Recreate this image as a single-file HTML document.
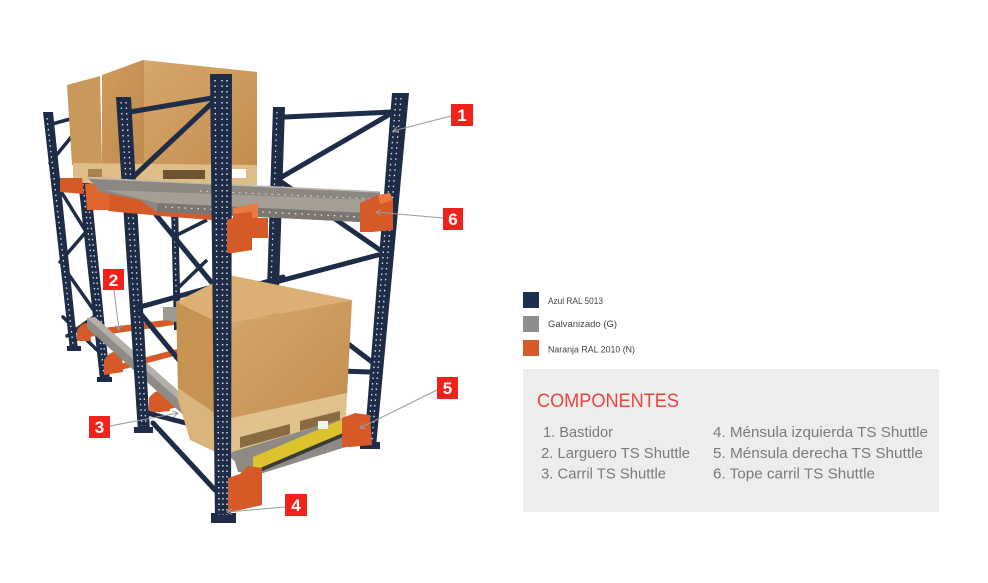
<!DOCTYPE html>
<html><head><meta charset="utf-8">
<style>
html,body{margin:0;padding:0;background:#fff;}
svg{display:block;}
</style></head><body>
<svg width="988" height="583" viewBox="0 0 988 583" xmlns="http://www.w3.org/2000/svg">
<defs>
<marker id="ar" markerWidth="8" markerHeight="8" refX="6" refY="4" orient="auto" markerUnits="userSpaceOnUse">
<path d="M1,1 L6,4 L1,7" fill="none" stroke="#9a9a9a" stroke-width="1"/>
</marker>
<linearGradient id="boxF" x1="0" y1="0" x2="1" y2="1">
<stop offset="0" stop-color="#d6a86c"/><stop offset="1" stop-color="#c38d4f"/>
</linearGradient>
<linearGradient id="boxT" x1="0" y1="0" x2="1" y2="1">
<stop offset="0" stop-color="#cf9c5e"/><stop offset="1" stop-color="#c08a4d"/>
</linearGradient>
</defs>

<!-- far-left frame -->
<g stroke="#1e2c47" stroke-width="3.5" stroke-linecap="round">
<line x1="52" y1="124" x2="74" y2="118"/>
<line x1="50" y1="163" x2="77" y2="130"/>
<line x1="52" y1="177" x2="85" y2="230"/>
<line x1="85" y1="233" x2="60" y2="262"/>
<line x1="62" y1="265" x2="95" y2="312"/>
<line x1="95" y1="316" x2="67" y2="336"/>
<line x1="63" y1="317" x2="97" y2="350"/>
</g>
<g fill="#1e2c47">
<polygon points="43,112 53,112 78,350 70,350"/>
<polygon points="70,107 83,107 110,380 100,380"/>
<rect x="67" y="346" width="14" height="5"/>
<rect x="97" y="377" width="15" height="5"/>
</g>
<g stroke="#dfe6ee" stroke-width="1.3" stroke-dasharray="1.5 4" fill="none">
<line x1="47" y1="118" x2="73" y2="345"/>
<line x1="75" y1="113" x2="104" y2="375"/>
<line x1="79" y1="113" x2="107" y2="375"/>
</g>

<!-- top boxes -->
<polygon points="67,85 100,76 102,165 72,165" fill="#c9995c"/>
<polygon points="102,75 143,60 143,166 102,166" fill="url(#boxT)"/>
<polygon points="143,60 257,72 257,166 143,166" fill="url(#boxF)"/>
<line x1="143" y1="60" x2="143" y2="166" stroke="#b5824a" stroke-width="1"/>
<!-- top pallet -->
<polygon points="73,163 257,165 257,185 73,183" fill="#dfbd86"/>
<rect x="163" y="170" width="42" height="9" fill="#6e5332"/>
<rect x="232" y="169" width="14" height="9" fill="#ffffff"/>
<rect x="88" y="169" width="14" height="8" fill="#a7834f"/>

<!-- right back upright & middle back -->
<g fill="#1e2c47">
<polygon points="273,107 285,107 274,440 262,440"/>
<polygon points="171,205 178,205 181,330 174,330"/>
</g>
<g stroke="#dfe6ee" stroke-width="1.2" stroke-dasharray="1.5 4">
<line x1="277" y1="112" x2="266" y2="430"/>
<line x1="174" y1="208" x2="177" y2="325"/>
</g>
<line x1="173" y1="237" x2="207" y2="220" stroke="#1e2c47" stroke-width="3.5"/>
<line x1="176" y1="290" x2="207" y2="260" stroke="#1e2c47" stroke-width="3.5"/>

<!-- right frame braces -->
<g stroke="#1e2c47" stroke-width="5" stroke-linecap="round">
<line x1="285" y1="117" x2="392" y2="112"/>
<line x1="280" y1="178" x2="392" y2="113"/>
<line x1="280" y1="181" x2="380" y2="250"/>
<line x1="272" y1="283" x2="378" y2="255"/>
<line x1="232" y1="292" x2="283" y2="277"/>
<line x1="330" y1="330" x2="372" y2="362"/>
<line x1="340" y1="371" x2="370" y2="372"/>
</g>

<!-- lower orange beams & rails (back) -->
<g fill="#d65a28">
<polygon points="88,330 173,319 174,325 89,337"/>
<polygon points="120,364 177,349 178,355 121,370"/>
<polygon points="160,404 178,400 178,407 161,411"/>
<path d="M77,341 L77,330 Q82,321 90,324 L91,341 Z"/>
<path d="M104,375 L104,360 Q111,349 122,352 L123,372 Z"/>
<path d="M149,413 L149,398 Q156,388 168,391 L170,411 Z"/>
</g>
<polygon points="87,318 95,317 247,452 245,464 240,466 87,328" fill="#8f8c88"/>
<polygon points="87,318 95,317 247,452 242,456" fill="#b3afa9"/>
<polygon points="163,307 177,307 177,322 163,320" fill="#9d9993"/>

<!-- left frame back upright U_C -->
<polygon points="116,97 131,97 150,432 138,432" fill="#1e2c47"/>
<rect x="134" y="427" width="19" height="6" fill="#1e2c47"/>
<g stroke="#dfe6ee" stroke-width="1.3" stroke-dasharray="1.5 4">
<line x1="121" y1="102" x2="142" y2="426"/>
<line x1="126" y1="102" x2="146" y2="426"/>
</g>

<!-- left frame braces -->
<g stroke="#1e2c47" stroke-width="5" stroke-linecap="round">
<line x1="130" y1="112" x2="212" y2="98"/>
<line x1="130" y1="180" x2="212" y2="103"/>
<line x1="130" y1="183" x2="212" y2="283"/>
<line x1="140" y1="307" x2="212" y2="287"/>
<line x1="140" y1="313" x2="212" y2="400"/>
<line x1="147" y1="413" x2="213" y2="430"/>
<line x1="153" y1="423" x2="215" y2="490"/>
</g>

<!-- top rail + orange -->
<g fill="#d65a28">
<polygon points="60,178 82,178 84,194 60,192"/>
<polygon points="108,190 160,195 162,216 108,211"/>
<polygon points="160,205 212,210 212,220 160,216"/>
<polygon points="85,184 108,182 110,210 87,210" fill="#e0662f"/>
</g>
<polygon points="88,178 380,192 380,205 367,213 360,222 157,212 140,200 100,192" fill="#8c8780"/>
<polygon points="105,190 378,200 367,213 157,203" fill="#a49e95"/>
<polygon points="157,203 367,213 360,222 157,212" fill="#7b7670"/>
<line x1="88" y1="178" x2="380" y2="192" stroke="#bdb8b0" stroke-width="1.5"/>
<line x1="165" y1="207" x2="360" y2="217" stroke="#eeeeee" stroke-width="1.2" stroke-dasharray="1.5 5"/>
<line x1="200" y1="191" x2="375" y2="199" stroke="#e6e6e6" stroke-width="1" stroke-dasharray="1.5 5"/>

<!-- right front upright U_G -->
<polygon points="392,93 409,93 376,447 364,447" fill="#1e2c47"/>
<rect x="360" y="442" width="20" height="7" fill="#1e2c47"/>
<g stroke="#dfe6ee" stroke-width="1.3" stroke-dasharray="1.5 4">
<line x1="396" y1="98" x2="368" y2="440"/>
<line x1="401" y1="98" x2="372" y2="440"/>
</g>

<!-- right top bracket -->
<polygon points="360,203 378,195 390,193 393,200 393,230 372,232 360,232" fill="#d65a28"/>
<polygon points="378,195 390,193 393,200 380,204" fill="#e87a44"/>

<!-- lower box -->
<polygon points="176,302 229,275 352,300 222,324" fill="#dcb075"/>
<polygon points="176,302 222,324 222,418 178,392" fill="#c79353"/>
<polygon points="222,324 352,300 347,396 222,424" fill="url(#boxF)"/>
<!-- lower pallet -->
<polygon points="178,388 222,418 222,455 190,440 178,400" fill="#d9b47c"/>
<polygon points="222,420 347,393 346,420 222,456" fill="#e2c28c"/>
<polygon points="240,437 290,424 290,434 240,448" fill="#8a6a40"/>
<polygon points="300,421 340,411 340,420 300,431" fill="#8a6a40"/>
<!-- shuttle -->
<polygon points="232,452 345,418 368,420 368,440 260,474 238,472" fill="#8e8b86"/>
<polygon points="253,457 343,419 343,433 253,471" fill="#dcc22c"/>
<polygon points="253,471 343,433 343,437 253,475" fill="#3b3a35"/>
<rect x="318" y="421" width="10" height="8" fill="#f2f2f2"/>

<!-- lower right bracket -->
<polygon points="342,418 355,413 370,415 372,445 350,447 342,447" fill="#d65a28"/>

<!-- main front upright U_D -->
<polygon points="210,74 232,74 231,522 215,522" fill="#1e2c47"/>
<rect x="211" y="513" width="25" height="10" fill="#1e2c47"/>
<g stroke="#dfe6ee" stroke-width="1.4" stroke-dasharray="1.5 4">
<line x1="215" y1="80" x2="219" y2="515"/>
<line x1="222" y1="80" x2="223" y2="515"/>
<line x1="227" y1="80" x2="227" y2="515"/>
</g>

<!-- top middle bracket -->
<polygon points="227,220 233,218 233,208 258,203 258,218 268,218 268,238 252,238 252,250 233,253 227,253" fill="#d65a28"/>
<polygon points="233,208 258,203 258,218 252,218 252,212 233,214" fill="#e87a44"/>

<!-- lower front bracket -->
<polygon points="228,478 240,474 248,466 262,468 262,505 240,510 228,512" fill="#d65a28"/>

<!-- leader lines -->
<g stroke="#9a9a9a" stroke-width="1" fill="none" marker-end="url(#ar)">
<line x1="451" y1="116" x2="393" y2="131"/>
<line x1="443" y1="218" x2="376" y2="212"/>
<line x1="114" y1="290" x2="119" y2="330"/>
<line x1="110" y1="426" x2="178" y2="413"/>
<line x1="437" y1="390" x2="360" y2="428"/>
<line x1="285" y1="507" x2="227" y2="512"/>
</g>

<!-- labels -->
<g fill="#f2221a">
<rect x="451" y="104" width="22" height="22"/>
<rect x="443" y="208" width="20" height="22"/>
<rect x="103" y="269" width="21" height="21"/>
<rect x="89" y="416" width="21" height="22"/>
<rect x="437" y="377" width="21" height="22"/>
<rect x="285" y="494" width="22" height="22"/>
</g>
<g fill="#ffffff" font-family="Liberation Sans, sans-serif" font-weight="bold" font-size="17" text-anchor="middle">
<text x="462" y="121">1</text>
<text x="453" y="225">6</text>
<text x="113.5" y="286">2</text>
<text x="99.5" y="433">3</text>
<text x="447.5" y="394">5</text>
<text x="296" y="511">4</text>
</g>

<!-- legend -->
<rect x="523" y="292" width="16" height="16" fill="#1b2f52"/>
<rect x="523" y="316" width="16" height="16" fill="#8c8f8e"/>
<rect x="523" y="340" width="16" height="16" fill="#d45b27"/>
<g font-family="Liberation Sans, sans-serif" font-size="9.5" fill="#444">
<text x="548" y="304" textLength="55" lengthAdjust="spacingAndGlyphs">Azul RAL 5013</text>
<text x="548" y="327" textLength="69" lengthAdjust="spacingAndGlyphs">Galvanizado (G)</text>
<text x="548" y="352.5" textLength="87" lengthAdjust="spacingAndGlyphs">Naranja RAL 2010 (N)</text>
</g>

<!-- components box -->
<rect x="523" y="369" width="416" height="143" fill="#ededed"/>
<text x="537" y="407" font-family="Liberation Sans, sans-serif" font-size="19" fill="#e8473c" textLength="142" lengthAdjust="spacingAndGlyphs">COMPONENTES</text>
<g font-family="Liberation Sans, sans-serif" font-size="15" fill="#7b7b7b">
<text x="543" y="437" textLength="70" lengthAdjust="spacingAndGlyphs">1. Bastidor</text>
<text x="541" y="458" textLength="149" lengthAdjust="spacingAndGlyphs">2. Larguero TS Shuttle</text>
<text x="541" y="478.5" textLength="125" lengthAdjust="spacingAndGlyphs">3. Carril TS Shuttle</text>
<text x="713" y="437" textLength="215" lengthAdjust="spacingAndGlyphs">4. Ménsula izquierda TS Shuttle</text>
<text x="713" y="458" textLength="210" lengthAdjust="spacingAndGlyphs">5. Ménsula derecha TS Shuttle</text>
<text x="713" y="478.5" textLength="162" lengthAdjust="spacingAndGlyphs">6. Tope carril TS Shuttle</text>
</g>
</svg>
</body></html>
